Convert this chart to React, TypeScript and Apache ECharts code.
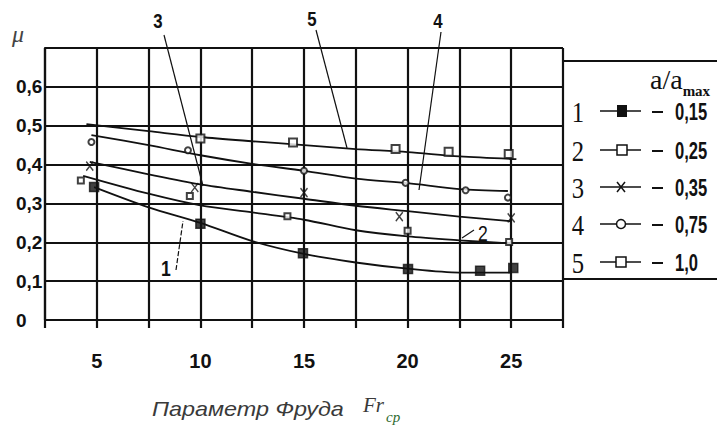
import React, { useEffect, useRef } from "react";
import * as echarts from "echarts";

// ---- data ----
const xTickLabels = ["5", "10", "15", "20", "25"];
const legendNumbers = ["1", "2", "3", "4", "5"];
const ratioLabels = ["0,15", "0,25", "0,35", "0,75", "1,0"];

// measured points (markers)
const points1 = [[4.87, 0.342], [10, 0.248], [14.95, 0.172], [20.02, 0.131], [23.5, 0.127], [25.1, 0.134]];
const points2 = [[4.23, 0.359], [9.49, 0.319], [14.2, 0.267], [20, 0.23], [24.9, 0.201]];
const points3 = [[4.66, 0.396], [9.73, 0.341], [15, 0.328], [19.6, 0.266], [25, 0.263]];
const points4 = [[4.74, 0.458], [9.4, 0.437], [15, 0.384], [19.9, 0.353], [22.8, 0.334], [24.84, 0.315]];
const points5 = [[10, 0.467], [14.47, 0.457], [19.42, 0.44], [21.98, 0.433], [24.88, 0.427]];

// fitted curves
const curve1 = [[4.87, 0.342], [7.5, 0.29], [10, 0.25], [12.5, 0.203], [15, 0.17], [17.5, 0.148], [20, 0.132], [22.5, 0.122], [25, 0.122]];
const curve2 = [[4.34, 0.371], [7.5, 0.325], [10, 0.295], [12.5, 0.277], [15, 0.258], [17.5, 0.231], [20, 0.215], [22.5, 0.205], [25, 0.197]];
const curve3 = [[4.66, 0.407], [7.5, 0.375], [10, 0.349], [12.5, 0.33], [15, 0.312], [17.5, 0.294], [20, 0.28], [22.5, 0.266], [25, 0.254]];
const curve4 = [[4.74, 0.476], [7.5, 0.45], [10, 0.424], [12.5, 0.402], [15, 0.384], [17.5, 0.364], [20, 0.352], [22.5, 0.337], [24.84, 0.332]];
const curve5 = [[4.5, 0.504], [7.5, 0.486], [10, 0.471], [12.5, 0.46], [15, 0.45], [17.5, 0.44], [20, 0.432], [22.5, 0.421], [25.25, 0.414]];

const SANS = "'Liberation Sans', Arial, sans-serif";
const SERIF = "'Liberation Serif', 'DejaVu Serif', serif";
const INK = "#111";

const xMark = "path://M0,0L10,12M10,0L0,12";

export default function App() {
  const ref = useRef<HTMLDivElement>(null);

  useEffect(() => {
    if (!ref.current) return;
    const chart = echarts.init(ref.current, undefined, { renderer: "svg" });

    const curveSeries = [curve1, curve2, curve3, curve4, curve5].map((c) => ({
      type: "line",
      data: c,
      smooth: 0.3,
      symbol: "none",
      lineStyle: { color: INK, width: 1.8 },
      z: 3,
    }));

    const markerDefs = [
      { data: points1, symbol: "rect", size: [9, 9], color: INK },
      { data: points2, symbol: "emptyRect", size: [6, 6], color: INK },
      { data: points3, symbol: xMark, size: [7, 9], color: "none" },
      { data: points4, symbol: "emptyCircle", size: 6, color: INK },
      { data: points5, symbol: "emptyRect", size: [8, 8], color: INK },
    ];
    const markerSeries = markerDefs.map((m) => ({
      type: "scatter",
      data: m.data,
      symbol: m.symbol,
      symbolSize: m.size,
      itemStyle: { color: m.color, borderColor: INK, borderWidth: 1.5 },
      z: 4,
    }));

    const narrowText = (text: string, x: number, y: number, size: number, scale: number, extra: any = {}) => ({
      type: "text",
      x,
      y,
      scaleX: scale,
      style: { text, font: `bold ${size}px ${SANS}`, fill: INK, verticalAlign: "middle", ...extra },
    });

    // legend graphic
    const rowY = [111, 150, 187, 224, 262];
    const legendEls: any[] = [];
    legendNumbers.forEach((n, i) => {
      const y = rowY[i];
      legendEls.push({
        type: "text", x: 578, y: y + 1, scaleX: 0.85,
        style: { text: n, font: `29px ${SERIF}`, fill: INK, align: "center", verticalAlign: "middle" },
      });
      legendEls.push({ type: "line", shape: { x1: 600, y1: y, x2: 641, y2: y }, style: { stroke: INK, lineWidth: 1.6 } });
      if (i === 0) legendEls.push({ type: "rect", shape: { x: 617, y: y - 6, width: 10, height: 12 }, style: { fill: INK } });
      if (i === 1) legendEls.push({ type: "rect", shape: { x: 617, y: y - 5, width: 10, height: 10 }, style: { fill: "#fff", stroke: INK, lineWidth: 1.5 } });
      if (i === 4) legendEls.push({ type: "rect", shape: { x: 616, y: y - 5, width: 10, height: 10 }, style: { fill: "#fff", stroke: INK, lineWidth: 1.5 } });
      if (i === 3) legendEls.push({ type: "circle", shape: { cx: 621, cy: y, r: 4.5 }, style: { fill: "#fff", stroke: INK, lineWidth: 1.5 } });
      if (i === 2) {
        legendEls.push({ type: "line", shape: { x1: 617, y1: y - 5, x2: 625, y2: y + 5 }, style: { stroke: INK, lineWidth: 1.5 } });
        legendEls.push({ type: "line", shape: { x1: 625, y1: y - 5, x2: 617, y2: y + 5 }, style: { stroke: INK, lineWidth: 1.5 } });
      }
      legendEls.push({ type: "line", shape: { x1: 652, y1: y + 1, x2: 663, y2: y + 1 }, style: { stroke: INK, lineWidth: 2 } });
      legendEls.push(narrowText(ratioLabels[i], 675, y + 1, 23, 0.72));
    });

    const option: any = {
      animation: false,
      backgroundColor: "#fff",
      grid: { left: 45, top: 48, right: 154, bottom: 106 },
      xAxis: {
        type: "value",
        min: 2.5,
        max: 27.5,
        interval: 2.5,
        axisLine: { show: true, onZero: false, lineStyle: { color: INK, width: 2.2 } },
        axisTick: { show: true, length: 8, lineStyle: { color: INK, width: 2.2 } },
        axisLabel: {
          formatter: (v: number) => (xTickLabels.includes(String(v)) ? String(v) : ""),
          margin: 31,
          fontFamily: SANS,
          fontWeight: "bold",
          fontSize: 20,
          color: INK,
        },
        splitLine: { show: true, lineStyle: { color: INK, width: 2.2 } },
      },
      yAxis: {
        type: "value",
        min: 0,
        max: 0.7,
        interval: 0.1,
        axisLine: { show: true, lineStyle: { color: INK, width: 2.2 } },
        axisTick: { show: false },
        axisLabel: {
          formatter: (v: number) => (v === 0 ? "0" : v >= 0.65 ? "" : v.toFixed(1).replace(".", ",")),
          align: "left",
          margin: 29,
          fontFamily: SANS,
          fontWeight: "bold",
          fontSize: 19,
          color: INK,
        },
        splitLine: { show: true, lineStyle: { color: INK, width: 2.2 } },
      },
      series: [...curveSeries, ...markerSeries],
      graphic: [
        { type: "text", x: 12, y: 22, style: { text: "μ", font: `italic 24px ${SERIF}`, fill: "#444" } },
        // annotation numbers + leaders
        narrowText("3", 158, 21, 21, 0.8, { align: "center" }),
        { type: "line", shape: { x1: 164, y1: 35, x2: 203, y2: 186 }, style: { stroke: INK, lineWidth: 1.2 } },
        narrowText("5", 312, 19, 21, 0.8, { align: "center" }),
        { type: "line", shape: { x1: 316, y1: 30, x2: 347, y2: 148 }, style: { stroke: INK, lineWidth: 1.2 } },
        narrowText("4", 438, 21, 21, 0.8, { align: "center" }),
        { type: "line", shape: { x1: 441, y1: 32, x2: 419, y2: 190 }, style: { stroke: INK, lineWidth: 1.2 } },
        narrowText("1", 166, 268, 22, 0.8, { align: "center" }),
        { type: "line", shape: { x1: 176, y1: 270, x2: 183, y2: 221 }, style: { stroke: INK, lineWidth: 1.2, lineDash: [5, 2] } },
        { type: "text", x: 483, y: 233, scaleX: 0.8, style: { text: "2", font: `22px ${SANS}`, fill: INK, align: "center", verticalAlign: "middle" } },
        { type: "line", shape: { x1: 462, y1: 238, x2: 474, y2: 230 }, style: { stroke: INK, lineWidth: 1.2 } },
        // legend frame
        { type: "line", shape: { x1: 563, y1: 61, x2: 717, y2: 61 }, style: { stroke: INK, lineWidth: 2.2 } },
        { type: "line", shape: { x1: 563, y1: 279, x2: 717, y2: 279 }, style: { stroke: INK, lineWidth: 2.2 } },
        {
          type: "text", x: 650, y: 93,
          style: {
            text: "{a|a/a}{m|max}",
            verticalAlign: "bottom",
            rich: {
              a: { font: `28px ${SERIF}`, fill: INK, verticalAlign: "bottom" },
              m: { font: `bold 15px ${SERIF}`, fill: INK, verticalAlign: "bottom", padding: [0, 0, -5, 0] },
            },
          },
        },
        ...legendEls,
        // axis title
        { type: "text", x: 152, y: 409, scaleX: 1.17, style: { text: "Параметр Фруда", font: `italic 20px ${SANS}`, fill: "#3a3a3a", verticalAlign: "middle" } },
        { type: "text", x: 363, y: 405, style: { text: "Fr", font: `italic 21px ${SERIF}`, fill: "#3a3a3a", verticalAlign: "middle" } },
        { type: "text", x: 386, y: 417, style: { text: "cp", font: `italic 15px ${SERIF}`, fill: "#2f6b2f", verticalAlign: "middle" } },
      ],
    };

    chart.setOption(option);
    return () => chart.dispose();
  }, []);

  return <div ref={ref} style={{ width: 717, height: 426, position: "absolute", left: 0, top: 0 }} />;
}
